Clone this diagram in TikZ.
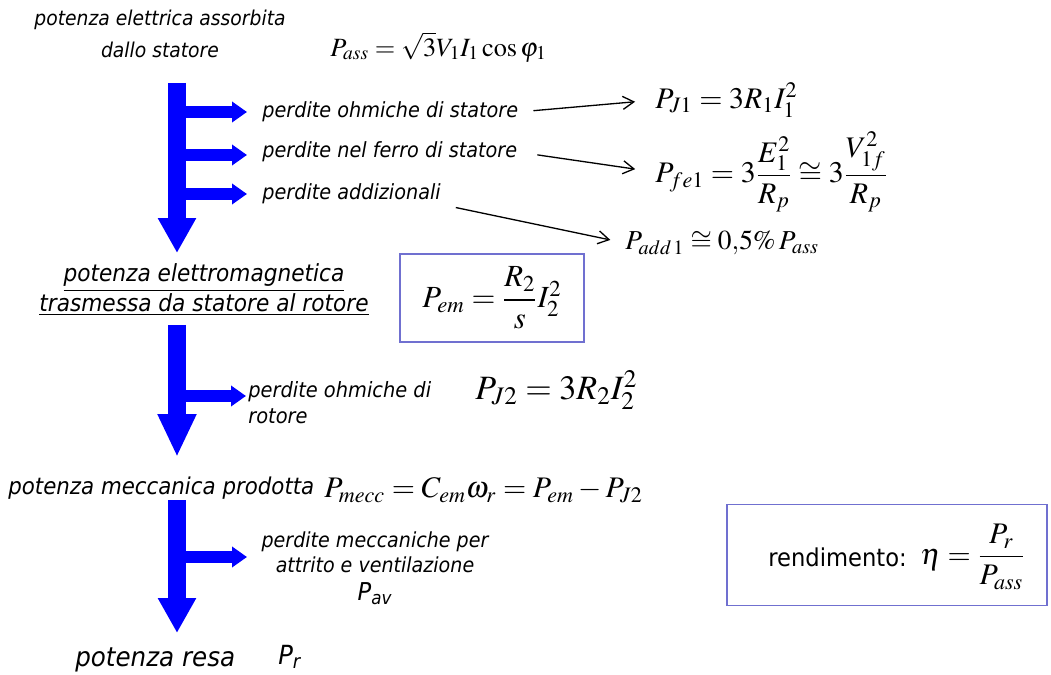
\documentclass[tikz,border=0pt]{standalone}
\usepackage{amsmath}
\usepackage{mathptmx}
\usepackage[no-math]{fontspec}
\setmainfont{DejaVu Sans}[FakeStretch=0.92]
\usepackage{xcolor}
\usetikzlibrary{arrows.meta, positioning}
\definecolor{boxblu}{RGB}{112,112,208}

\begin{document}
\begin{tikzpicture}[x=0.02cm, y=-0.02cm,
    testo/.style={font=\itshape, inner sep=0pt},
    perdita/.style={testo, anchor=west, font=\itshape\fontsize{11.9}{14}\selectfont},
    formula/.style={inner sep=0pt, font=\fontsize{17}{20}\selectfont},
    flusso/.style={blue, line width=0.36cm, -{Triangle[width=0.72cm, length=0.7cm]}},
    ramo/.style={blue, line width=0.24cm, -{Triangle[width=0.4cm, length=0.3cm]}},
    freccia/.style={-{Straight Barb[length=0.22cm, width=0.26cm]}, line width=0.75pt},
    riquadro/.style={draw=boxblu, line width=1pt, inner sep=0pt}]
    \useasboundingbox (0,0) rectangle (1051,675);

    % 1. Potenza assorbita dallo statore
    \node[testo, align=center, font=\itshape\fontsize{11.6}{18}\selectfont] (ass) at (160,34) {potenza elettrica assorbita\\dallo statore};
    \node[formula, anchor=west, font=\fontsize{15}{17}\selectfont] (Pass) at (330,47) {$P_{ass} = \sqrt{3}V_1 I_1 \cos\varphi_1$};

    % 2. Perdite di statore
    \node[perdita] (l1) at (262,112) {perdite ohmiche di statore};
    \node[perdita] (l2) at (262,152) {perdite nel ferro di statore};
    \node[perdita] (l3) at (262,194) {perdite addizionali};
    \node[formula, anchor=west] (PJ1) at (655,100) {$P_{J1} = 3R_1 I_1^2$};
    \node[formula, anchor=west] (Pfe1) at (655,172) {$P_{fe1} = 3\dfrac{E_1^2}{R_p} \cong 3\dfrac{V_{1f}^2}{R_p}$};
    \node[formula, anchor=west, font=\fontsize{15.6}{18}\selectfont] (Padd) at (625,243) {$P_{add\,1} \cong 0{,}5\%\,P_{ass}$};
    \draw[freccia, shorten <=0.3cm, shorten >=0.4cm] (l1.east) -- (PJ1.west);
    \draw[freccia, shorten <=0.4cm, shorten >=0.4cm] (l2.east) -- (Pfe1.west);
    \draw[freccia, shorten <=0.3cm, shorten >=0.3cm] (l3.south east) -- (Padd.west);

    % 3. Potenza elettromagnetica
    \node[testo, align=center, font=\itshape\fontsize{13.4}{15.4}\selectfont] (em) at (204,290) {\underline{potenza elettromagnetica}\\\underline{trasmessa da statore al rotore}};
    \node[riquadro, minimum width=3.68cm, minimum height=1.76cm] (Pem) at (492,298) {\fontsize{17.5}{20}\selectfont$P_{em} = \dfrac{R_2}{s} I_2^2$\hspace{0.2cm}};

    % 4. Perdite di rotore
    \node[testo, align=left, anchor=west, font=\itshape\fontsize{12}{14.8}\selectfont] (l4) at (248,403) {perdite ohmiche di\\rotore};
    \node[formula, anchor=west, font=\fontsize{19.4}{22}\selectfont] (PJ2) at (475,390) {$P_{J2} = 3R_2 I_2^2$};

    % 5. Potenza meccanica
    \node[testo, anchor=west, font=\itshape\fontsize{13.2}{16}\selectfont] (mecc) at (8,488) {potenza meccanica prodotta};
    \node[formula, anchor=west] (Pmecc) at (324,490) {$P_{mecc} = C_{em}\omega_r = P_{em} - P_{J2}$};
    \node[testo, align=center, font=\itshape\fontsize{11.8}{14.2}\selectfont] (l5) at (375,568) {perdite meccaniche per\\attrito e ventilazione\\[2pt]{\fontsize{14}{16}\selectfont$\textit{P}_{\textit{av}}$}};

    % 6. Potenza resa e rendimento
    \node[testo, anchor=west, font=\itshape\fontsize{15.2}{17}\selectfont] (resa) at (75,660) {potenza resa};
    \node[testo, anchor=west, font=\itshape\fontsize{15}{17}\selectfont] (Pr) at (278,657) {$\textit{P}_{\textit{r}}$};
    \node[riquadro, minimum width=6.4cm, minimum height=2.02cm] (rend) at (887,555) {};
    \node[anchor=west, inner sep=0pt, font=\fontsize{14}{16}\selectfont] (rtxt) at (768,557) {rendimento:};
    \node[formula, anchor=west] (eta) at (920,557) {$\eta = \dfrac{P_r}{P_{ass}}$};

    % 7. Frecce blu del flusso di potenza
    \coordinate (f1) at (177,83);
    \coordinate (f2) at (177,325);
    \coordinate (f3) at (177,500);
    \draw[flusso] (f1) -- (177,253);
    \draw[flusso, -{Triangle[width=0.72cm, length=0.86cm]}] (f2) -- (177,457);
    \draw[flusso] (f3) -- (177,633);
    \draw[ramo, shorten >=0.3cm] (f1 |- l1) -- (l1.west);
    \draw[ramo, shorten >=0.3cm] (f1 |- 0,155) -- (l2.west |- 0,155);
    \draw[ramo, shorten >=0.3cm] (f1 |- l3) -- (l3.west);
    \draw[ramo] (f2 |- 0,396) -- (246,396);
    \draw[ramo] (f3 |- 0,557) -- (247,557);
\end{tikzpicture}
\end{document}
